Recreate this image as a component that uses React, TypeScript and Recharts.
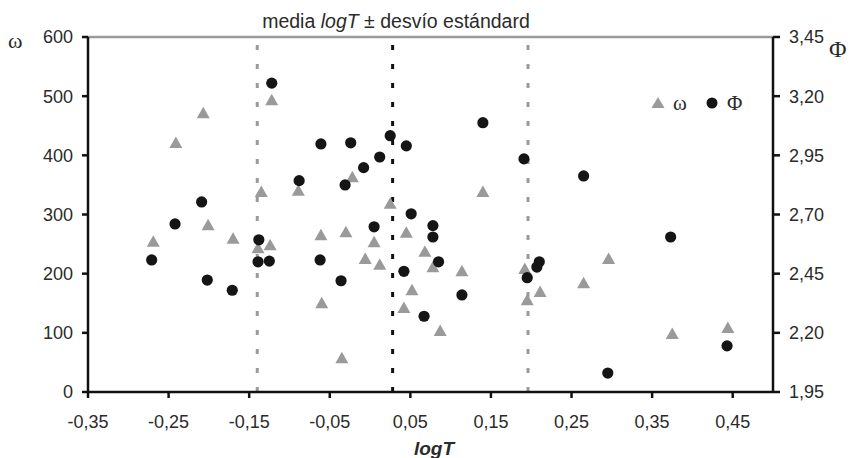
import { ScatterChart, Scatter, XAxis, YAxis, ReferenceLine } from "recharts";

// logT and ω (grey triangles, left axis)
const omegaLogT = [
  -0.122, -0.207, -0.241, -0.135, -0.089, -0.269, -0.201, -0.17, -0.139, -0.124,
  -0.022, 0.025, 0.14, -0.061, -0.03, 0.005, 0.045, -0.006, 0.012, 0.068,
  0.078, 0.114, 0.052, -0.06, 0.042, 0.087, -0.035, 0.192, 0.211, 0.195,
  0.265, 0.296, 0.375, 0.444,
];
const omegaValues = [
  493, 471, 421, 338, 340, 254, 282, 259, 243, 248,
  363, 318, 338, 265, 270, 253, 269, 225, 215, 237,
  211, 204, 172, 150, 142, 103, 57, 208, 169, 155,
  184, 225, 98, 108,
];

// logT and Φ (black circles, right axis)
const phiLogT = [
  -0.122, -0.209, -0.242, -0.271, -0.202, -0.171, -0.138, -0.139, -0.125, -0.088,
  -0.062, -0.061, -0.036, -0.031, -0.024, -0.008, 0.005, 0.012, 0.025, 0.045,
  0.042, 0.051, 0.067, 0.078, 0.078, 0.085, 0.114, 0.14, 0.191, 0.195,
  0.207, 0.21, 0.265, 0.295, 0.373, 0.443,
];
const phiValues = [
  3.255, 2.753, 2.66, 2.508, 2.423, 2.38, 2.593, 2.5, 2.503, 2.843,
  2.508, 2.998, 2.42, 2.825, 3.003, 2.898, 2.648, 2.943, 3.033, 2.99,
  2.46, 2.703, 2.27, 2.653, 2.605, 2.5, 2.36, 3.088, 2.935, 2.433,
  2.478, 2.5, 2.863, 2.03, 2.605, 2.145,
];

const xTicks = [-0.35, -0.25, -0.15, -0.05, 0.05, 0.15, 0.25, 0.35, 0.45];
const omegaTicks = [0, 100, 200, 300, 400, 500, 600];
const phiTicks = [1.95, 2.2, 2.45, 2.7, 2.95, 3.2, 3.45];

const meanLogT = 0.028;
const sdLogT = 0.168;

const omegaData = omegaLogT.map((x, i) => ({ x, y: omegaValues[i] }));
const phiData = phiLogT.map((x, i) => ({ x, y: phiValues[i] }));

const GREY = "#9a9a9a";
const DARK = "#151515";
const TEXT = "#2b2b2b";
const sans = "'Liberation Sans', Arial, sans-serif";
const serif = "'Liberation Serif', 'Times New Roman', serif";

const comma = (v: number) => v.toFixed(2).replace(".", ",");

const Triangle = (props: any) => {
  const { cx, cy } = props;
  return <polygon points={`${cx},${cy - 6.5} ${cx + 6.5},${cy + 5} ${cx - 6.5},${cy + 5}`} fill={GREY} />;
};

const Dot = (props: any) => {
  const { cx, cy } = props;
  return <circle cx={cx} cy={cy} r={5.6} fill={DARK} />;
};

export default function App() {
  return (
    <div style={{ position: "absolute", left: 0, top: 0, width: 854, height: 458, background: "#fff" }}>
      <ScatterChart width={854} height={458} margin={{ top: 37, right: 0, bottom: 0, left: 0 }}>
        <XAxis
          type="number"
          dataKey="x"
          domain={[-0.35, 0.5]}
          ticks={xTicks}
          tickFormatter={comma}
          stroke="#111"
          strokeWidth={2.5}
          tickSize={6}
          tickMargin={17}
          height={66}
          tick={{ fill: TEXT, fontSize: 18, fontFamily: sans }}
          allowDataOverflow
        />
        <YAxis
          yAxisId="omega"
          type="number"
          dataKey="y"
          domain={[0, 600]}
          ticks={omegaTicks}
          width={88}
          stroke="#111"
          strokeWidth={2.5}
          tickSize={6}
          tickMargin={9}
          tick={{ fill: TEXT, fontSize: 18, fontFamily: sans }}
        />
        <YAxis
          yAxisId="phi"
          orientation="right"
          type="number"
          dataKey="y"
          domain={[1.95, 3.45]}
          ticks={phiTicks}
          tickFormatter={comma}
          width={81}
          stroke="#111"
          strokeWidth={2.5}
          tickSize={7}
          tickMargin={9}
          tick={{ fill: TEXT, fontSize: 18, fontFamily: sans }}
        />
        <ReferenceLine yAxisId="omega" y={600} stroke={GREY} strokeWidth={2.5} />
        <ReferenceLine yAxisId="omega" x={meanLogT - sdLogT} stroke={GREY} strokeWidth={3} strokeDasharray="5 14" />
        <ReferenceLine yAxisId="omega" x={meanLogT} stroke="#111" strokeWidth={3} strokeDasharray="5 14" />
        <ReferenceLine yAxisId="omega" x={meanLogT + sdLogT} stroke={GREY} strokeWidth={3} strokeDasharray="5 14" />
        <Scatter name="ω" data={omegaData} yAxisId="omega" shape={Triangle} isAnimationActive={false} />
        <Scatter name="Φ" data={phiData} yAxisId="phi" shape={Dot} isAnimationActive={false} />
        {/* legend */}
        <polygon points="658,97 664.5,108 651.5,108" fill={GREY} />
        <text x={673} y={110} fontFamily={serif} fontSize={21} fill={TEXT}>ω</text>
        <circle cx={712} cy={103} r={5.5} fill={DARK} />
        <text x={727} y={110} fontFamily={serif} fontSize={21} fill={TEXT}>Φ</text>
        <text x={396} y={28} textAnchor="middle" fontFamily={sans} fontSize={19.5} fill={TEXT}>
          media <tspan fontStyle="italic">logT</tspan> ± desvío estándard
        </text>
        <text x={434} y={455} textAnchor="middle" fontFamily={sans} fontSize={19} fontWeight="bold" fontStyle="italic" fill={TEXT}>
          logT
        </text>
        <text x={8} y={48} fontFamily={serif} fontSize={22} fill={TEXT}>ω</text>
        <text x={829} y={57} fontFamily={serif} fontSize={24} fill={TEXT}>Φ</text>
      </ScatterChart>
    </div>
  );
}
